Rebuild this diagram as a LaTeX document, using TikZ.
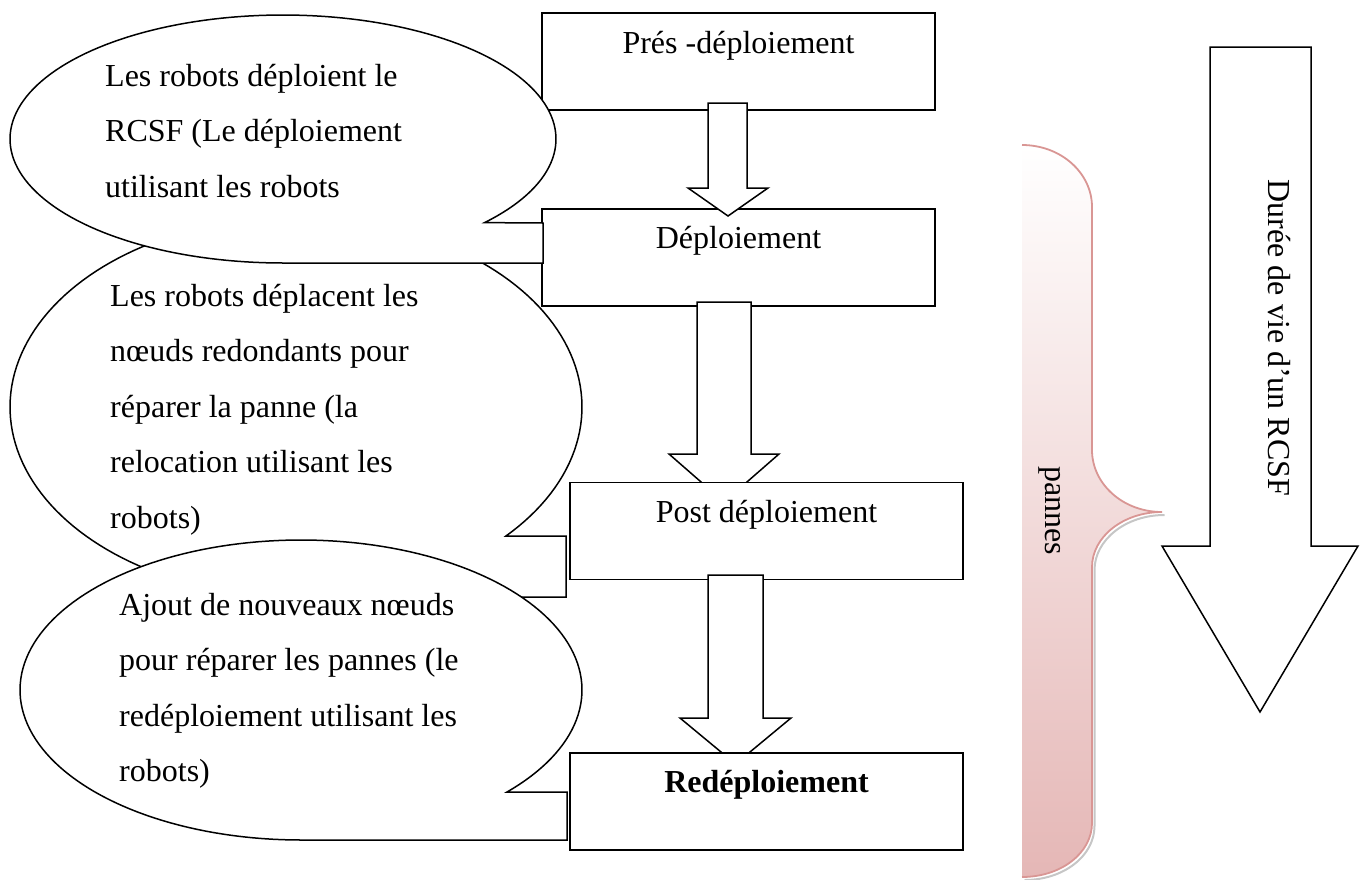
\documentclass[tikz,border=0pt]{standalone}
\usepackage{fontspec}
\setmainfont{Liberation Serif}
\definecolor{braceline}{RGB}{217,150,148}
\definecolor{bracefill}{RGB}{229,183,182}
\begin{document}
\begin{tikzpicture}[x=1pt,y=-1pt,
  stepbox/.style={draw, line width=1.6pt, fill=white, minimum width=393pt, minimum height=97pt, inner sep=0pt},
  boxtext/.style={anchor=base, inner sep=0pt, font=\fontsize{32}{38}\selectfont},
  bubble/.style={draw, line width=1.5pt, fill=white, line join=miter},
  bubbletext/.style={anchor=base west, align=left, inner sep=0pt, font=\fontsize{32}{55.5}\selectfont},
  blockarrow/.style={draw, line width=1.5pt, fill=white, line join=miter},
  sidetext/.style={anchor=base, rotate=-90, inner sep=0pt, font=\fontsize{32}{38}\selectfont},
  ]
\useasboundingbox (0,0) rectangle (1360,879);

% phase boxes and the block arrows between them
\node[stepbox] (b1) at (738.5,61.5) {};
\node[boxtext] (t1) at (738.5,53) {Prés -déploiement};
\node[stepbox] (b2) at (738.5,257.5) {};
\node[boxtext] (t2) at (738.5,248) {Déploiement};
\draw[blockarrow] (708,103) -- (708,188) -- (688,188) -- (728,216) -- (768,188) -- (747,188) -- (747,103) -- cycle;
\draw[blockarrow] (697,302) -- (697,454) -- (669,454) -- (724,502) -- (779,454) -- (751,454) -- (751,302) -- cycle;
\node[stepbox] (b3) at (766.5,531) {};
\node[boxtext] (t3) at (766.5,522) {Post déploiement};
\draw[blockarrow] (708,575) -- (708,718) -- (680,718) -- (735.5,764) -- (791,718) -- (763,718) -- (763,575) -- cycle;
\node[stepbox] (b4) at (766.5,801.5) {};
\node[boxtext] (t4) at (766.5,792) {\textbf{Redéploiement}};

% speech bubbles (middle one first, the others overlap it);
% text nodes are placed by the baseline of their last line
\draw[bubble] (566,597) -- plot[domain=-270:42.8, samples=160] ({296+286*cos(\x)},{407+190*sin(\x)}) -- (566,536) -- cycle;
\node[bubbletext] (c2) at (110,528) {Les robots déplacent les\\nœuds redondants pour\\réparer la panne (la\\relocation utilisant les\\robots)};

\draw[bubble] (543,263) -- plot[domain=-270:42.4, samples=160] ({283+273*cos(\x)},{139+124*sin(\x)}) -- (543,223) -- cycle;
\node[bubbletext] (c1) at (105,197) {Les robots déploient le\\RCSF (Le déploiement\\utilisant les robots};

\draw[bubble] (567,840) -- plot[domain=-270:42.9, samples=160] ({301+281*cos(\x)},{690+150*sin(\x)}) -- (567,792) -- cycle;
\node[bubbletext] (c3) at (119,781.5) {Ajout de nouveaux nœuds\\pour réparer les pannes (le\\redéploiement utilisant les\\robots)};

% brace marking the failure phases
\shade[top color=white, bottom color=bracefill]
  (1022,145) .. controls (1061,145) and (1092,173) .. (1092,207) -- (1092,450)
  .. controls (1092,484) and (1123,512) .. (1162,512)
  .. controls (1123,512) and (1092,537) .. (1092,567) -- (1092,823)
  .. controls (1092,853) and (1061,877) .. (1022,877) -- cycle;
\draw[gray, opacity=0.45, line width=2pt, shift={(2.5,3)}]
  (1162,512) .. controls (1123,512) and (1092,537) .. (1092,567) -- (1092,823)
  .. controls (1092,853) and (1061,877) .. (1022,877);
\draw[braceline, line width=1.8pt]
  (1022,145) .. controls (1061,145) and (1092,173) .. (1092,207) -- (1092,450)
  .. controls (1092,484) and (1123,512) .. (1162,512)
  .. controls (1123,512) and (1092,537) .. (1092,567) -- (1092,823)
  .. controls (1092,853) and (1061,877) .. (1022,877);
\node[sidetext] (pannes) at (1045,511) {pannes};

% lifetime arrow
\draw[blockarrow] (1210,47) -- (1311,47) -- (1311,546) -- (1358,546) -- (1260,712) -- (1162,546) -- (1210,546) -- cycle;
\node[sidetext] (life) at (1268,338) {Durée de vie d’un RCSF};
\end{tikzpicture}
\end{document}
